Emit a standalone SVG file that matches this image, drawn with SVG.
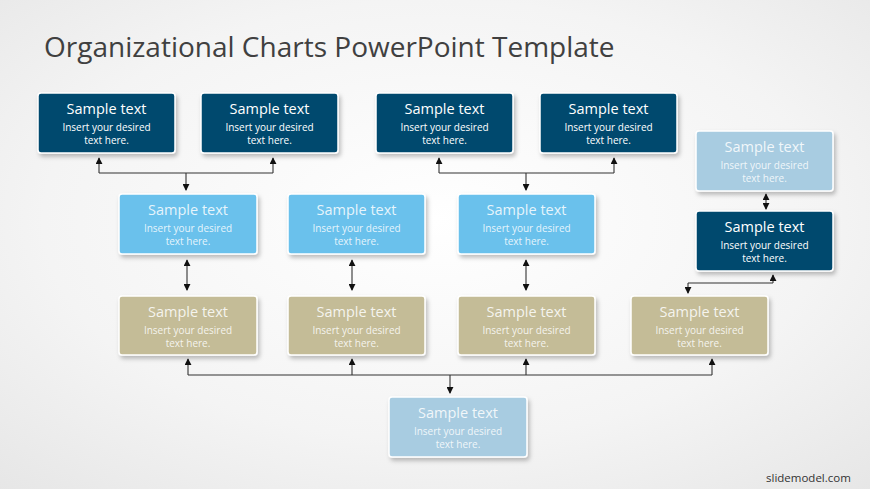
<svg xmlns="http://www.w3.org/2000/svg" width="870" height="489" viewBox="0 0 870 489">
<defs>
<radialGradient id="bg" cx="0.5" cy="0.45" r="0.75">
<stop offset="0" stop-color="#ffffff"/>
<stop offset="0.6" stop-color="#f4f4f4"/>
<stop offset="1" stop-color="#e6e6e6"/>
</radialGradient>
<filter id="sh" x="-10%" y="-10%" width="125%" height="135%">
<feDropShadow dx="2" dy="3" stdDeviation="2" flood-color="#000" flood-opacity="0.25"/>
</filter>
<marker id="ah" viewBox="0 0 8 8" refX="7" refY="4" markerWidth="7" markerHeight="7" markerUnits="userSpaceOnUse" orient="auto-start-reverse">
<path d="M0,0 L8,4 L0,8 z" fill="#111"/>
</marker>
</defs>
<style>
.box{stroke:#ffffff;stroke-width:1.5;filter:url(#sh)}
.dark{fill:#014a6e}
.lb{fill:#6bc1ec}
.pale{fill:#a8cce1}
.beige{fill:#c4bc97}
.t1{font-family:"Open Sans","Noto Sans",sans-serif;font-size:14.5px;fill:#ffffff;text-anchor:middle}
.t2{font-family:"Open Sans","Noto Sans",sans-serif;font-size:10px;fill:#ffffff;text-anchor:middle}
.soft .t1,.soft .t2{fill-opacity:0.85}
.con{fill:none;stroke:#333;stroke-width:1.1}
.title{font-family:"Open Sans","Noto Sans",sans-serif;font-size:28px;fill:#404040}
.wm{font-family:"Open Sans","Noto Sans",sans-serif;font-size:11.5px;fill:#333}
</style>
<rect width="870" height="489" fill="url(#bg)"/>
<text class="title" x="44" y="57">Organizational Charts PowerPoint Template</text>
<text class="wm" x="766" y="482">slidemodel.com</text>

<g id="connectors">
<path class="con" d="M99,173 V158" marker-end="url(#ah)"/>
<path class="con" d="M273,173 V158" marker-end="url(#ah)"/>
<path class="con" d="M99,173 H273"/>
<path class="con" d="M186,173 V190" marker-end="url(#ah)"/>
<path class="con" d="M439,173 V158" marker-end="url(#ah)"/>
<path class="con" d="M614,173 V158" marker-end="url(#ah)"/>
<path class="con" d="M439,173 H614"/>
<path class="con" d="M526,173 V190" marker-end="url(#ah)"/>
<path class="con" d="M187,260 V290" marker-start="url(#ah)" marker-end="url(#ah)"/>
<path class="con" d="M352,260 V290" marker-start="url(#ah)" marker-end="url(#ah)"/>
<path class="con" d="M526,260 V290" marker-start="url(#ah)" marker-end="url(#ah)"/>
<path class="con" d="M766,194 V209" marker-start="url(#ah)" marker-end="url(#ah)"/>
<path class="con" d="M773,283 V275" marker-end="url(#ah)"/>
<path class="con" d="M688,283 H773"/>
<path class="con" d="M688,283 V293" marker-end="url(#ah)"/>
<path class="con" d="M188,375 H712"/>
<path class="con" d="M188,375 V359" marker-end="url(#ah)"/>
<path class="con" d="M352,375 V359" marker-end="url(#ah)"/>
<path class="con" d="M526,375 V359" marker-end="url(#ah)"/>
<path class="con" d="M712,375 V359" marker-end="url(#ah)"/>
<path class="con" d="M450,375 V393" marker-end="url(#ah)"/>
</g>

<g id="n1"><rect class="box dark" x="38" y="93" width="137" height="60" rx="3"/><text class="t1" x="106.5" y="114">Sample text</text><text class="t2" x="106.5" y="131">Insert your desired</text><text class="t2" x="106.5" y="144">text here.</text></g>
<g id="n2"><rect class="box dark" x="201" y="93" width="137" height="60" rx="3"/><text class="t1" x="269.5" y="114">Sample text</text><text class="t2" x="269.5" y="131">Insert your desired</text><text class="t2" x="269.5" y="144">text here.</text></g>
<g id="n3"><rect class="box dark" x="376" y="93" width="137" height="60" rx="3"/><text class="t1" x="444.5" y="114">Sample text</text><text class="t2" x="444.5" y="131">Insert your desired</text><text class="t2" x="444.5" y="144">text here.</text></g>
<g id="n4"><rect class="box dark" x="540" y="93" width="137" height="60" rx="3"/><text class="t1" x="608.5" y="114">Sample text</text><text class="t2" x="608.5" y="131">Insert your desired</text><text class="t2" x="608.5" y="144">text here.</text></g>

<g id="n5" class="soft"><rect class="box lb" x="119" y="194" width="138" height="60" rx="3"/><text class="t1" x="188" y="215">Sample text</text><text class="t2" x="188" y="232">Insert your desired</text><text class="t2" x="188" y="245">text here.</text></g>
<g id="n6" class="soft"><rect class="box lb" x="288" y="194" width="137" height="60" rx="3"/><text class="t1" x="356.5" y="215">Sample text</text><text class="t2" x="356.5" y="232">Insert your desired</text><text class="t2" x="356.5" y="245">text here.</text></g>
<g id="n7" class="soft"><rect class="box lb" x="458" y="194" width="137" height="60" rx="3"/><text class="t1" x="526.5" y="215">Sample text</text><text class="t2" x="526.5" y="232">Insert your desired</text><text class="t2" x="526.5" y="245">text here.</text></g>

<g id="n8" class="soft"><rect class="box pale" x="696" y="131" width="137" height="60" rx="3"/><text class="t1" x="764.5" y="152">Sample text</text><text class="t2" x="764.5" y="169">Insert your desired</text><text class="t2" x="764.5" y="182">text here.</text></g>
<g id="n9"><rect class="box dark" x="696" y="211" width="137" height="60" rx="3"/><text class="t1" x="764.5" y="232">Sample text</text><text class="t2" x="764.5" y="249">Insert your desired</text><text class="t2" x="764.5" y="262">text here.</text></g>

<g id="n10" class="soft"><rect class="box beige" x="119" y="296" width="138" height="59" rx="3"/><text class="t1" x="188" y="317">Sample text</text><text class="t2" x="188" y="334">Insert your desired</text><text class="t2" x="188" y="347">text here.</text></g>
<g id="n11" class="soft"><rect class="box beige" x="288" y="296" width="137" height="59" rx="3"/><text class="t1" x="356.5" y="317">Sample text</text><text class="t2" x="356.5" y="334">Insert your desired</text><text class="t2" x="356.5" y="347">text here.</text></g>
<g id="n12" class="soft"><rect class="box beige" x="458" y="296" width="137" height="59" rx="3"/><text class="t1" x="526.5" y="317">Sample text</text><text class="t2" x="526.5" y="334">Insert your desired</text><text class="t2" x="526.5" y="347">text here.</text></g>
<g id="n13" class="soft"><rect class="box beige" x="631" y="296" width="137" height="59" rx="3"/><text class="t1" x="699.5" y="317">Sample text</text><text class="t2" x="699.5" y="334">Insert your desired</text><text class="t2" x="699.5" y="347">text here.</text></g>

<g id="n14" class="soft"><rect class="box pale" x="389" y="397" width="138" height="60" rx="3"/><text class="t1" x="458" y="418">Sample text</text><text class="t2" x="458" y="435">Insert your desired</text><text class="t2" x="458" y="448">text here.</text></g>
</svg>
